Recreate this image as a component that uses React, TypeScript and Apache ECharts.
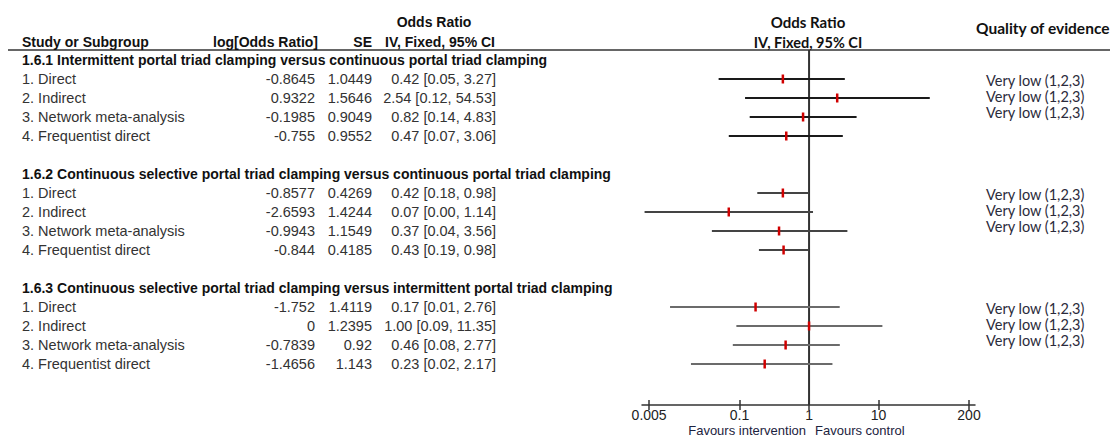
import React, { useEffect, useRef } from "react";
import * as echarts from "echarts";

// ---------- data ----------
const sectionTitles = [
  "1.6.1 Intermittent portal triad clamping versus continuous portal triad clamping",
  "1.6.2 Continuous selective portal triad clamping versus continuous portal triad clamping",
  "1.6.3 Continuous selective portal triad clamping versus intermittent portal triad clamping",
];
const rowLabels = ["1. Direct", "2. Indirect", "3. Network meta-analysis", "4. Frequentist direct"];
const logOR = [
  [-0.8645, 0.9322, -0.1985, -0.755],
  [-0.8577, -2.6593, -0.9943, -0.844],
  [-1.752, 0, -0.7839, -1.4656],
];
const seValues = [
  [1.0449, 1.5646, 0.9049, 0.9552],
  [0.4269, 1.4244, 1.1549, 0.4185],
  [1.4119, 1.2395, 0.92, 1.143],
];
const oddsRatio = [
  [0.42, 2.54, 0.82, 0.47],
  [0.42, 0.07, 0.37, 0.43],
  [0.17, 1.0, 0.46, 0.23],
];
const ciLow = [
  [0.05, 0.12, 0.14, 0.07],
  [0.18, 0.0043, 0.04, 0.19],
  [0.01, 0.09, 0.08, 0.02],
];
const ciHigh = [
  [3.27, 54.53, 4.83, 3.06],
  [0.98, 1.14, 3.56, 0.98],
  [2.76, 11.35, 2.77, 2.17],
];
const qualityLabels = [
  ["Very low (1,2,3)", "Very low (1,2,3)", "Very low (1,2,3)"],
  ["Very low (1,2,3)", "Very low (1,2,3)", "Very low (1,2,3)"],
  ["Very low (1,2,3)", "Very low (1,2,3)", "Very low (1,2,3)"],
];
const tickValues = [0.005, 0.1, 1, 10, 200];
const nullEffect = [1];

// ---------- style ----------
const ARIAL = "'Liberation Sans', Arial, sans-serif";
const CAL = "Lato, 'Open Sans', sans-serif";
const sectionLineColors = ["#1a1a1a", "#444444", "#6b6b6b"];
const ROW_STEP = 19;
const GRID_TOP = 50;
const GRID_H = 355;
const FIRST_ROW_Y = 60;
const yMin = -(FIRST_ROW_Y - GRID_TOP) / ROW_STEP;
const yMax = yMin + GRID_H / ROW_STEP;
const HEAD_FONT = `bold 14px ${ARIAL}`;
const DATA_FONT = `14.5px ${ARIAL}`;

function buildOption() {
  const ciData: any[] = [];
  const tableData: any[] = [];
  const qualityData: any[] = [];
  sectionTitles.forEach((t, s) => {
    const base = s * 6;
    tableData.push([1, base, s, -1]);
    rowLabels.forEach((_, i) => {
      const r = base + 1 + i;
      ciData.push([ciLow[s][i], ciHigh[s][i], oddsRatio[s][i], r, s]);
      tableData.push([1, r, s, i]);
    });
    qualityLabels[s].forEach((_, k) => qualityData.push([1, base + 1, s, k]));
  });

  return {
    animation: false,
    grid: { left: 642, width: 333, top: GRID_TOP, height: GRID_H, containLabel: false },
    xAxis: [
      {
        type: "log",
        logBase: 10,
        min: 0.00395,
        max: 244,
        position: "bottom",
        splitLine: { show: false },
        axisLine: { show: true, onZero: false, lineStyle: { color: "#333", width: 1.5 } },
        axisTick: { show: true, length: 5, customValues: tickValues, lineStyle: { color: "#333", width: 1.5 } },
        axisLabel: {
          customValues: tickValues,
          formatter: (v: number) => String(+v.toPrecision(6)),
          color: "#222",
          fontFamily: ARIAL,
          fontSize: 14,
          margin: 3,
        },
      },
      {
        type: "log",
        logBase: 10,
        min: 0.00395,
        max: 244,
        position: "bottom",
        splitLine: { show: false },
        axisLine: { show: false, onZero: false },
        axisTick: { show: true, inside: true, length: 5, customValues: tickValues, lineStyle: { color: "#333", width: 1.5 } },
        axisLabel: { show: false },
      },
    ],
    yAxis: { type: "value", inverse: true, min: yMin, max: yMax, show: false },
    graphic: [
      { type: "line", shape: { x1: 8, y1: 50, x2: 1110, y2: 50 }, style: { stroke: "#333", lineWidth: 1.6 } },
      { type: "text", x: 434, y: 22, style: { text: "Odds Ratio", font: HEAD_FONT, fill: "#111", align: "center", verticalAlign: "middle" } },
      { type: "text", x: 22, y: 42, style: { text: "Study or Subgroup", font: HEAD_FONT, fill: "#111", align: "left", verticalAlign: "middle" } },
      { type: "text", x: 318, y: 42, style: { text: "log[Odds Ratio]", font: HEAD_FONT, fill: "#111", align: "right", verticalAlign: "middle" } },
      { type: "text", x: 372, y: 42, style: { text: "SE", font: HEAD_FONT, fill: "#111", align: "right", verticalAlign: "middle" } },
      { type: "text", x: 495, y: 42, style: { text: "IV, Fixed, 95% CI", font: HEAD_FONT, fill: "#111", align: "right", verticalAlign: "middle" } },
      { type: "text", x: 808, y: 22, style: { text: "Odds Ratio", font: `bold 15px ${CAL}`, fill: "#111", align: "center", verticalAlign: "middle" } },
      { type: "text", x: 808, y: 42, style: { text: "IV, Fixed, 95% CI", font: `bold 14.5px ${CAL}`, fill: "#111", align: "center", verticalAlign: "middle" } },
      { type: "text", x: 976, y: 28, style: { text: "Quality of evidence", font: `bold 15.5px ${CAL}`, fill: "#111", align: "left", verticalAlign: "middle" } },
      { type: "text", x: 806, y: 430, style: { text: "Favours intervention", font: `13px ${ARIAL}`, fill: "#1c2340", align: "right", verticalAlign: "middle" } },
      { type: "text", x: 815, y: 430, style: { text: "Favours control", font: `13px ${ARIAL}`, fill: "#1c2340", align: "left", verticalAlign: "middle" } },
    ],
    series: [
      {
        type: "custom",
        name: "ref",
        coordinateSystem: "cartesian2d",
        clip: false,
        z: 1,
        silent: true,
        encode: { x: 0 },
        data: nullEffect.map((v) => [v]),
        renderItem: (params: any, api: any) => {
          const a = api.coord([api.value(0), yMin]);
          const b = api.coord([api.value(0), yMax]);
          return { type: "line", shape: { x1: a[0], y1: a[1], x2: b[0], y2: b[1] }, style: { stroke: "#333", lineWidth: 2 } };
        },
      },
      {
        type: "custom",
        name: "ci",
        coordinateSystem: "cartesian2d",
        clip: false,
        z: 3,
        encode: { x: [0, 1, 2], y: 3 },
        data: ciData,
        renderItem: (params: any, api: any) => {
          const r = api.value(3);
          const s = api.value(4);
          const lo = api.coord([api.value(0), r]);
          const hi = api.coord([api.value(1), r]);
          const m = api.coord([api.value(2), r]);
          return {
            type: "group",
            children: [
              { type: "line", shape: { x1: lo[0], y1: lo[1], x2: hi[0], y2: hi[1] }, style: { stroke: sectionLineColors[s], lineWidth: 2 } },
              { type: "line", z2: 5, shape: { x1: m[0], y1: m[1] - 4.5, x2: m[0], y2: m[1] + 4.5 }, style: { stroke: "#d00000", lineWidth: 2.5 } },
            ],
          };
        },
      },
      {
        type: "custom",
        name: "table",
        coordinateSystem: "cartesian2d",
        clip: false,
        encode: { x: 0, y: 1 },
        data: tableData,
        renderItem: (params: any, api: any) => {
          const y = api.coord([1, api.value(1)])[1];
          const s = api.value(2);
          const i = api.value(3);
          if (i < 0) {
            return { type: "text", x: 22, y, style: { text: sectionTitles[s], font: HEAD_FONT, fill: "#111", align: "left", verticalAlign: "middle" } };
          }
          const col = "#333";
          const ci = `${oddsRatio[s][i].toFixed(2)} [${ciLow[s][i].toFixed(2)}, ${ciHigh[s][i].toFixed(2)}]`;
          return {
            type: "group",
            children: [
              { type: "text", x: 22, y, style: { text: rowLabels[i], font: DATA_FONT, fill: col, align: "left", verticalAlign: "middle" } },
              { type: "text", x: 315, y, style: { text: String(logOR[s][i]), font: DATA_FONT, fill: col, align: "right", verticalAlign: "middle" } },
              { type: "text", x: 372, y, style: { text: String(seValues[s][i]), font: DATA_FONT, fill: col, align: "right", verticalAlign: "middle" } },
              { type: "text", x: 496, y, style: { text: ci, font: DATA_FONT, fill: col, align: "right", verticalAlign: "middle" } },
            ],
          };
        },
      },
      {
        type: "custom",
        name: "quality",
        coordinateSystem: "cartesian2d",
        clip: false,
        encode: { x: 0, y: 1 },
        data: qualityData,
        renderItem: (params: any, api: any) => {
          const y = api.coord([1, api.value(1)])[1];
          const s = api.value(2);
          const k = api.value(3);
          return { type: "text", x: 986, y: y + 1 + k * 16, style: { text: qualityLabels[s][k], font: `14.5px ${CAL}`, fill: "#2b2b3b", align: "left", verticalAlign: "middle" } };
        },
      },
    ],
  };
}

export default function App() {
  const ref = useRef<HTMLDivElement>(null);
  useEffect(() => {
    if (!ref.current) return;
    const chart = echarts.init(ref.current, null, { renderer: "svg" });
    chart.setOption(buildOption() as any);
    return () => chart.dispose();
  }, []);
  return <div ref={ref} style={{ position: "absolute", left: 0, top: 0, width: 1110, height: 437, background: "#fff" }} />;
}
